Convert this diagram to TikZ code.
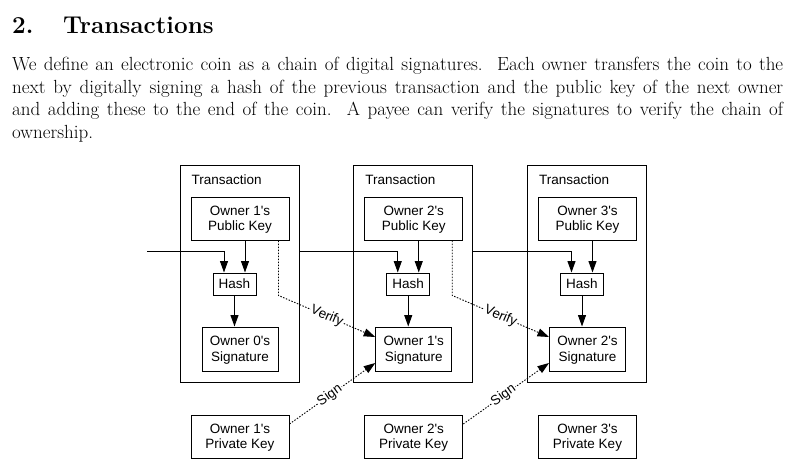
\documentclass[tikz,border=0pt]{standalone}
\usepackage{fontspec}
\newfontfamily\diag{Liberation Sans}[Ligatures=TeXOff]
\usetikzlibrary{arrows.meta}
\newcommand\diagf{\diag\fontsize{13.5}{15.5}\selectfont}
\newcommand\parf{\fontsize{19}{22.5}\selectfont}
\begin{document}
\begin{tikzpicture}[x=1pt,y=-1pt,
  box/.style={draw,line width=1pt,inner sep=0pt,align=center,font=\diagf,text depth=0pt},
  arr/.style={line width=1pt,-{Triangle[length=11.5pt,width=8pt]}},
  dotarr/.style={line width=0.9pt,dash pattern=on 1.5pt off 1.5pt,-{Triangle[length=11.5pt,width=8pt]}},
  lbl/.style={font=\diagf,fill=white,inner sep=1pt,sloped},
  pline/.style={anchor=base west,inner sep=0pt,font=\parf}]
\useasboundingbox (0,0) rectangle (807,471);
% heading
\node[anchor=base west,inner sep=0pt,font=\fontsize{24.3}{27}\selectfont\bfseries] (num) at (12,33) {2.};
\node[anchor=base west,inner sep=0pt,font=\fontsize{24.3}{27}\selectfont\bfseries] (title) at (63,33) {Transactions};
% paragraph
\node[pline] (l1) at (12,70.5) {\makebox[771pt][s]{We define an electronic coin as a chain of digital signatures.\ \ Each owner transfers the coin to the}};
\node[pline] (l2) at (12,93) {\makebox[771pt][s]{next by digitally signing a hash of the previous transaction and the public key of the next owner}};
\node[pline] (l3) at (12,115.5) {\makebox[771pt][s]{and adding these to the end of the coin.\ \ A payee can verify the signatures to verify the chain of}};
\node[pline] (l4) at (12,138) {ownership.};
% transactions
\foreach \i/\dx/\p in {1/0/0,2/173.75/1,3/347.5/2} {
  \begin{scope}[xshift=\dx pt]
    \node[box,minimum width=119pt,minimum height=217pt] (tx\i) at (239.5,273.5) {};
    \node[font=\diagf,anchor=west,inner sep=0pt] (tl\i) at (191.5,180) {Transaction};
    \node[box,minimum width=98pt,minimum height=43pt] (pub\i) at (240,218.5) {Owner \i's\\Public Key};
    \node[box,minimum width=43pt,minimum height=22pt] (hash\i) at (234.5,284) {Hash};
    \node[box,minimum width=76pt,minimum height=44pt] (sig\i) at (240,349) {Owner \p's\\Signature};
    \node[box,minimum width=98pt,minimum height=43pt] (priv\i) at (240,436.5) {Owner \i's\\Private Key};
    \draw[arr] ([xshift=10.5pt]hash\i.north |- pub\i.south) -- ([xshift=10.5pt]hash\i.north);
    \draw[arr] (hash\i.south) -- (hash\i.south |- sig\i.north);
  \end{scope}
}
% chain lines
\coordinate (in0) at (147,251);
\draw[arr] (in0) -| ([xshift=-10.5pt]hash1.north);
\draw[arr] (tx1.east |- in0) -| ([xshift=-10.5pt]hash2.north);
\draw[arr] (tx2.east |- in0) -| ([xshift=-10.5pt]hash3.north);
% verify
\draw[dotarr] ([xshift=-11pt]pub1.south east) -- ([xshift=-11pt]pub1.south east |- hash1.south)
  -- node[lbl,pos=0.5]{Verify} ([yshift=12pt]sig2.west);
\draw[dotarr] ([xshift=-11pt]pub2.south east) -- ([xshift=-11pt]pub2.south east |- hash2.south)
  -- node[lbl,pos=0.5]{Verify} ([yshift=12pt]sig3.west);
% sign
\draw[dotarr] ([yshift=12.5pt]priv1.east) -- node[lbl,pos=0.47]{Sign} ([yshift=-14pt]sig2.west);
\draw[dotarr] ([yshift=12.5pt]priv2.east) -- node[lbl,pos=0.47]{Sign} ([yshift=-14pt]sig3.west);
\end{tikzpicture}
\end{document}
